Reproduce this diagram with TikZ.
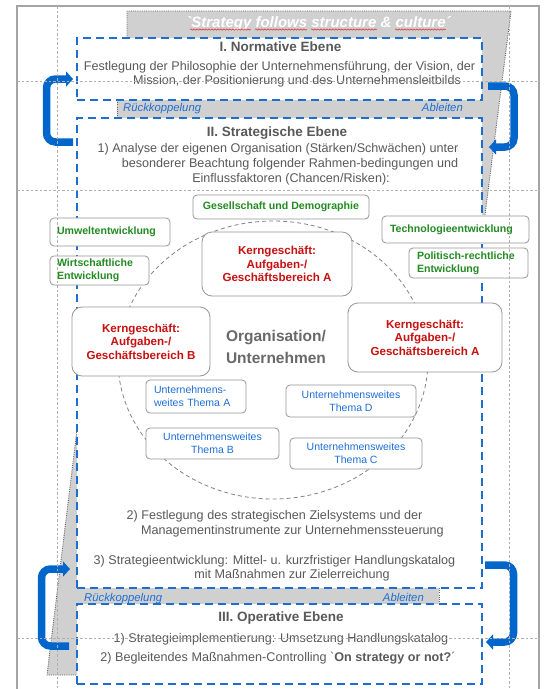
\documentclass[tikz,border=0pt]{standalone}
\usepackage{fontspec}
\setmainfont{Liberation Sans}
\usetikzlibrary{arrows.meta,shapes.geometric,decorations.pathmorphing}
\definecolor{framec}{RGB}{165,165,165}
\definecolor{bandgray}{RGB}{208,208,208}
\definecolor{dotc}{RGB}{100,100,100}
\definecolor{dashblue}{RGB}{30,110,210}
\definecolor{arrowblue}{RGB}{0,102,204}
\definecolor{txtgray}{RGB}{89,89,89}
\definecolor{orggray}{RGB}{105,105,105}
\definecolor{ggreen}{RGB}{34,139,34}
\definecolor{rred}{RGB}{200,16,16}
\definecolor{tblue}{RGB}{30,110,215}
\definecolor{boxgray}{RGB}{150,150,150}
\definecolor{guidec}{RGB}{175,175,175}
\definecolor{elgray}{RGB}{130,130,130}
\definecolor{squig}{RGB}{225,40,40}
\newcommand\gravech{{\addfontfeature{Ligatures=TeXOff}`}}
\begin{document}
\begin{tikzpicture}[x=1pt,y=-1pt,
  levelbox/.style={draw=dashblue, line width=1.8pt, dash pattern=on 8pt off 5pt, fill=white, inner sep=0pt, outer sep=0pt},
  bodytxt/.style={font=\fontsize{12.6}{15}\selectfont, text=txtgray, inner sep=0pt, anchor=base},
  leveltitle/.style={font=\bfseries\fontsize{13.5}{16}\selectfont, text=txtgray, inner sep=0pt, anchor=base},
  feedtxt/.style={font=\itshape\fontsize{11.3}{13}\selectfont, text=dashblue, inner sep=0pt},
  greenbox/.style={draw=boxgray, line width=0.8pt, rounded corners=4pt, fill=white, text=ggreen, font=\bfseries\fontsize{10.6}{13}\selectfont, inner ysep=0pt, outer sep=0pt},
  redbox/.style={draw=boxgray, line width=0.8pt, rounded corners=10pt, fill=white, text=rred, font=\bfseries\fontsize{11.6}{13.5}\selectfont, align=center, inner sep=0pt, outer sep=0pt},
  bluebox/.style={draw=boxgray, line width=0.8pt, rounded corners=4pt, fill=white, text=tblue, font=\fontsize{10.5}{13}\selectfont, inner ysep=0pt, outer sep=0pt},
  bigarrow/.style={draw=arrowblue, line width=7.5pt, rounded corners=9pt, -{Triangle[length=7pt,width=15pt]}},
  guide/.style={draw=guidec, line width=0.6pt, dash pattern=on 2.5pt off 2pt},
  dotedge/.style={draw=dotc, line width=0.9pt, dash pattern=on 1pt off 1.2pt},
  squiggle/.style={draw=squig, line width=0.5pt, decorate, decoration={snake, amplitude=0.7pt, segment length=3pt}}
]
\useasboundingbox (0,0) rectangle (544,689);
\fill[white] (0,0) rectangle (544,689);
% frame
\draw[framec, line width=1.5pt] (17,689) -- (17,6) -- (539,6) -- (539,689);
% gray band shapes
\fill[bandgray] (127,11) -- (511,11) -- (485,215) -- (475,215) -- (475,118) -- (117,118) -- (117,100) -- (127,100) -- cycle;
\fill[bandgray] (77,430) -- (47,675) -- (95,675) -- (95,604) -- (439,604) -- (439,588) -- (95,588) -- (95,430) -- cycle;
\draw[dotedge] (127,38) -- (127,11) -- (511,11) -- (485,215);
\draw[dotedge] (117,100) -- (117,118);
\draw[dotedge] (77,430) -- (47,675) -- (78,675);
\draw[dotedge] (439,588) -- (439,604);
% level boxes
\node[levelbox, minimum width=405pt, minimum height=62pt] (nI) at (279.5,69) {};
\node[levelbox, minimum width=405pt, minimum height=470pt] (nII) at (279.5,353) {};
\node[levelbox, minimum width=405pt, minimum height=80pt] (nIII) at (279.5,644) {};
% title banner text
\node[font=\bfseries\itshape\fontsize{15}{18}\selectfont, text=white, inner sep=0pt, anchor=base] (motto) at (318.5,27) {\gravech Strategy follows structure \& culture´};
\draw[squiggle] (190,29.5) -- (251,29.5);
\draw[squiggle] (255,29.5) -- (307,29.5);
\draw[squiggle] (311,29.5) -- (377,29.5);
\draw[squiggle] (395,29.5) -- (446,29.5);
% level I
\node[leveltitle] (tI) at (280.5,51.9) {I. Normative Ebene};
\node[bodytxt] (pIa) at (279.5,70.5) {Festlegung der Philosophie der Unternehmensführung, der Vision, der};
\node[bodytxt] (pIb) at (297,84) {Mission, der Positionierung und des Unternehmensleitbilds};
% feedback labels
\node[feedtxt, anchor=base west] (rk1) at (123,111) {Rückkoppelung};
\node[feedtxt, anchor=base east] (ab1) at (463,111) {Ableiten};
\node[feedtxt, anchor=base west] (rk2) at (84,601) {Rückkoppelung};
\node[feedtxt, anchor=base east] (ab2) at (424,601) {Ableiten};
% level II
\node[leveltitle] (tII) at (277,136.9) {II. Strategische Ebene};
\node[bodytxt] (pIIa) at (278,152.5) {1) Analyse der eigenen Organisation (Stärken/Schwächen) unter};
\node[bodytxt] (pIIb) at (290,167.5) {besonderer Beachtung folgender Rahmen-bedingungen und};
\node[bodytxt] (pIIc) at (291,182.5) {Einflussfaktoren (Chancen/Risken):};
% ring
\node[draw=elgray, dash pattern=on 4pt off 3pt, line width=0.8pt, ellipse, minimum width=310pt, minimum height=278pt, inner sep=0pt] (orgring) at (273,360) {};
% green factor boxes
\node[greenbox, align=center, minimum width=176pt, minimum height=24pt, inner xsep=0pt] (gGes) at (281,207) {Gesellschaft und Demographie};
\node[greenbox, align=left, text width=106pt, inner xsep=7pt, minimum height=28pt] (gUmw) at (110,232) {Umweltentwicklung};
\node[greenbox, align=left, text width=85pt, inner xsep=7pt, minimum height=29pt] (gWir) at (99.5,270.5) {Wirtschaftliche\\Entwicklung};
\node[greenbox, align=left, text width=131pt, inner xsep=8pt, minimum height=27pt] (gTec) at (455.5,229.5) {Technologieentwicklung};
\node[greenbox, align=left, text width=103pt, inner xsep=8pt, minimum height=30pt] (gPol) at (468.5,263) {Politisch-rechtliche\\Entwicklung};
% core business boxes
\node[redbox, minimum width=150pt, minimum height=64pt] (kA1) at (277,264) {Kerngeschäft:\\Aufgaben-/\\Geschäftsbereich A};
\node[redbox, minimum width=138pt, minimum height=69pt] (kB) at (141,341.5) {Kerngeschäft:\\Aufgaben-/\\Geschäftsbereich B};
\node[redbox, minimum width=154pt, minimum height=69pt] (kA2) at (425,337.5) {Kerngeschäft:\\Aufgaben-/\\Geschäftsbereich A};
% organisation label
\node[font=\bfseries\fontsize{15.5}{22}\selectfont, text=orggray, align=center, inner sep=0pt] (org) at (276,347) {Organisation/\\Unternehmen};
% topic boxes
\node[bluebox, align=left, text width=84pt, inner xsep=8pt, minimum height=33pt] (thA) at (196,396.5) {Unternehmens-\\weites Thema A};
\node[bluebox, align=center, minimum width=130pt, minimum height=32pt, inner xsep=0pt] (thD) at (351,401) {Unternehmensweites\\Thema D};
\node[bluebox, align=center, minimum width=133pt, minimum height=31pt, inner xsep=0pt] (thB) at (212.5,443.5) {Unternehmensweites\\Thema B};
\node[bluebox, align=center, minimum width=132pt, minimum height=31pt, inner xsep=0pt] (thC) at (356,453.5) {Unternehmensweites\\Thema C};
% steps 2 and 3
\node[bodytxt] (pIId) at (274.5,519.5) {2) Festlegung des strategischen Zielsystems und der};
\node[bodytxt] (pIIe) at (292.5,534.5) {Managementinstrumente zur Unternehmenssteuerung};
\node[bodytxt] (pIIf) at (274.5,564.5) {3) Strategieentwicklung: Mittel- u. kurzfristiger Handlungskatalog};
\node[bodytxt] (pIIg) at (292,578.5) {mit Maßnahmen zur Zielerreichung};
% level III
\node[leveltitle] (tIII) at (281,621.9) {III. Operative Ebene};
\node[bodytxt] (pIIIa) at (281,642.5) {1) Strategieimplementierung: Umsetzung Handlungskatalog};
\node[bodytxt] (pIIIb) at (278,661.5) {2) Begleitendes Maßnahmen-Controlling \gravech\textbf{On strategy or not?}´};
% feedback / derive arrows
\coordinate (fbIs) at (73,142);
\coordinate (fbIe) at (73,79);
\coordinate (drIs) at (488,86);
\coordinate (drIe) at (489,147);
\coordinate (fbIIs) at (69,646);
\coordinate (fbIIe) at (70,569);
\coordinate (drIIs) at (485,565);
\coordinate (drIIe) at (486,642);
\draw[bigarrow] (fbIs) -- (46.5,142) -- (46.5,79) -- (fbIe);
\draw[bigarrow] (drIs) -- (514,86) -- (514,147) -- (drIe);
\draw[bigarrow] (fbIIs) -- (41.5,646) -- (41.5,569) -- (fbIIe);
\draw[bigarrow] (drIIs) -- (513.5,565) -- (513.5,642) -- (drIIe);
% guides
\draw[guide] (57,6) -- (57,689);
\draw[guide] (509,6) -- (509,689);
\draw[guide] (17,81) -- (539,81);
\draw[guide] (17,190) -- (539,190);
\draw[guide] (17,638) -- (539,638);
\end{tikzpicture}
\end{document}
